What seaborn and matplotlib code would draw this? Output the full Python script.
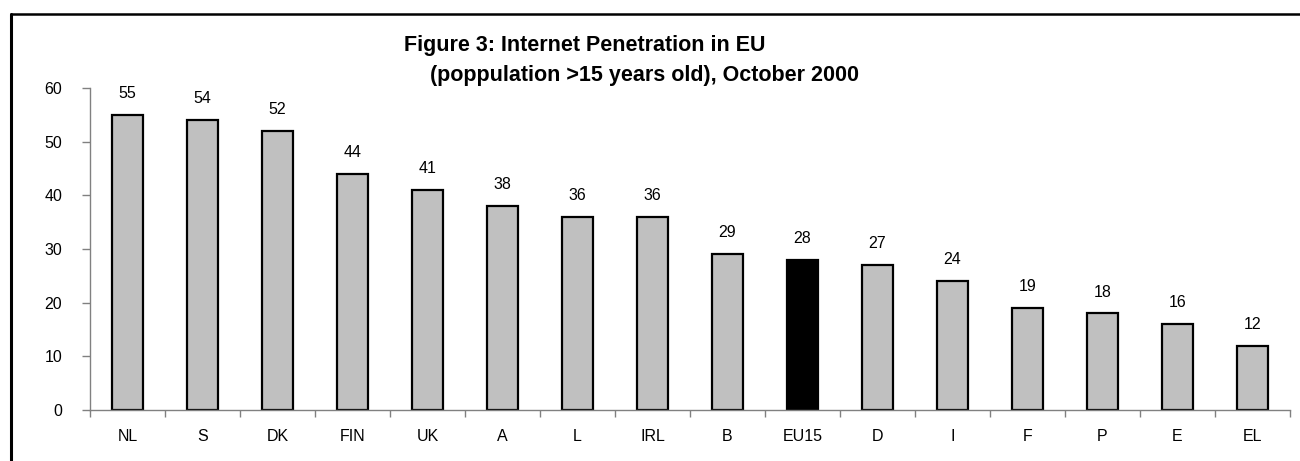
import matplotlib
matplotlib.use("Agg")
import matplotlib.pyplot as plt
import seaborn as sns
import pandas as pd
from matplotlib.lines import Line2D
from matplotlib.ticker import FixedLocator

# Data
countries = ["NL", "S", "DK", "FIN", "UK", "A", "L", "IRL", "B", "EU15",
             "D", "I", "F", "P", "E", "EL"]
penetration = [55, 54, 52, 44, 41, 38, 36, 36, 29, 28, 27, 24, 19, 18, 16, 12]
bar_colors = ["black" if c == "EU15" else "#C0C0C0" for c in countries]

df = pd.DataFrame({"Country": countries, "Penetration": penetration})

sns.set_style("white")
plt.rcParams["font.family"] = ["Liberation Sans", "DejaVu Sans"]
plt.rcParams["text.color"] = "black"
plt.rcParams["xtick.color"] = "black"
plt.rcParams["ytick.color"] = "black"

fig = plt.figure(figsize=(13, 4.61), dpi=100)
ax = fig.add_axes([90 / 1300, 1 - 410 / 461, 1200 / 1300, 322 / 461])

sns.barplot(data=df, x="Country", y="Penetration", hue="Country",
            palette=bar_colors, legend=False, width=0.42,
            edgecolor="black", linewidth=1.6, saturation=1, ax=ax)

ax.set_xlim(-0.5, len(countries) - 0.5)
ax.set_ylim(0, 60)
ax.set_yticks(range(0, 61, 10))
ax.set_xlabel("")
ax.set_ylabel("")

# value labels
for i, v in enumerate(penetration):
    ax.annotate(str(v), (i, v), xytext=(0, 10), textcoords="offset points",
                ha="center", va="bottom", fontsize=11.5, color="black")

# spines and ticks
for s in ["top", "right"]:
    ax.spines[s].set_visible(False)
for s in ["left", "bottom"]:
    ax.spines[s].set_color("#808080")
    ax.spines[s].set_linewidth(1.0)

ax.tick_params(axis="y", left=True, length=6, width=1, color="#808080",
               labelcolor="black", direction="out", pad=14, labelsize=11.5)
ax.tick_params(axis="x", which="major", length=0, pad=14, labelsize=11.5,
               labelcolor="black")
ax.xaxis.set_minor_locator(FixedLocator([i - 0.5 for i in range(len(countries) + 1)]))
ax.tick_params(axis="x", which="minor", bottom=True, length=5, width=1,
               color="#808080", direction="out")

# title
fig.text(585 / 1300, 1 - 45 / 461, "Figure 3: Internet Penetration in EU",
         ha="center", va="center", fontsize=15.5, fontweight="bold", color="black")
fig.text(645 / 1300, 1 - 75 / 461, "(poppulation >15 years old), October 2000",
         ha="center", va="center", fontsize=15.5, fontweight="bold", color="black")

# frame around the chart
x0 = 11 / 1300
y0 = 1 - 14.5 / 461
fig.add_artist(Line2D([x0, x0], [0, y0], transform=fig.transFigure,
                      color="black", linewidth=2.2))
fig.add_artist(Line2D([x0, 1], [y0, y0], transform=fig.transFigure,
                      color="black", linewidth=1.8))

fig.savefig("out.png", dpi=100)
